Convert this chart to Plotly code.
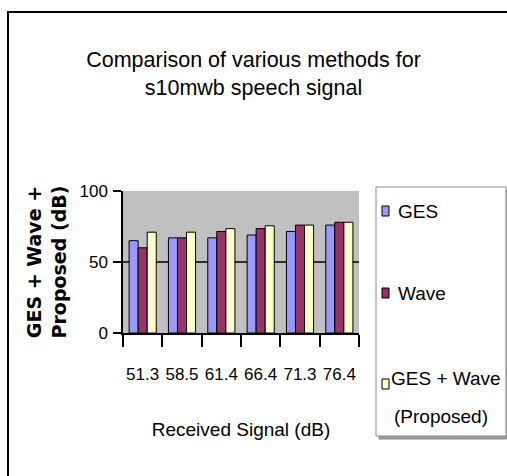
import plotly.graph_objects as go

# ---- data ----
categories = ["51.3", "58.5", "61.4", "66.4", "71.3", "76.4"]
ges = [65, 67, 67, 69, 71.5, 76]
wave = [60, 67, 71.5, 73.5, 76, 78]
proposed = [71, 71, 73.5, 75.5, 76, 78]
series_names = ["GES", "Wave", "GES + Wave (Proposed)"]
series_colors = ["#9999FF", "#993366", "#FFFFCC"]
y_ticks = [0, 50, 100]

W, H = 507, 476
L, R, T, B = 123, 359, 191, 333  # plot area in pixels

def px(x):
    return (x - L) / (R - L)

def py(y):
    return (B - y) / (B - T)

FONT = "Liberation Sans, Arial, sans-serif"

fig = go.Figure()
for name, vals, col in zip(series_names, [ges, wave, proposed], series_colors):
    fig.add_trace(go.Bar(
        x=categories, y=vals, name=name, showlegend=False,
        marker=dict(color=col, line=dict(color="black", width=1)),
    ))

shapes = []
# gridline at 50 (behind bars)
shapes.append(dict(type="line", xref="paper", yref="y", x0=0, x1=1, y0=50, y1=50,
                   line=dict(color="black", width=1.5), layer="below"))
# outer chart border
shapes.append(dict(type="rect", xref="paper", yref="paper",
                   x0=px(8), x1=px(530), y0=py(12), y1=py(500),
                   line=dict(color="black", width=2), fillcolor="rgba(0,0,0,0)"))
# legend shadow + frame
shapes.append(dict(type="rect", xref="paper", yref="paper",
                   x0=px(379), x1=px(509), y0=py(190), y1=py(439),
                   line=dict(color="#8a8a8a", width=1), fillcolor="#9a9a9a"))
shapes.append(dict(type="rect", xref="paper", yref="paper",
                   x0=px(376), x1=px(506), y0=py(187), y1=py(436),
                   line=dict(color="#8a8a8a", width=1), fillcolor="white"))

annotations = []
legend_rows = [211, 293, 384]
for (name, col, yc) in zip(series_names, series_colors, legend_rows):
    shapes.append(dict(type="rect", xref="paper", yref="paper",
                       x0=px(382), x1=px(389), y0=py(yc - 5), y1=py(yc + 5),
                       line=dict(color="black", width=1), fillcolor=col))
# legend labels
annotations.append(dict(text=series_names[0], xref="paper", yref="paper",
                        x=px(396), y=py(211), xanchor="left", yanchor="middle",
                        showarrow=False, font=dict(family=FONT, size=19, color="black")))
annotations.append(dict(text=series_names[1], xref="paper", yref="paper",
                        x=px(396), y=py(293), xanchor="left", yanchor="middle",
                        showarrow=False, font=dict(family=FONT, size=19, color="black")))
p1, p2 = series_names[2].split(" (")
annotations.append(dict(text=p1, xref="paper", yref="paper",
                        x=px(446), y=py(378), xanchor="center", yanchor="middle",
                        showarrow=False, font=dict(family=FONT, size=19, color="black")))
annotations.append(dict(text="(" + p2, xref="paper", yref="paper",
                        x=px(441), y=py(416), xanchor="center", yanchor="middle",
                        showarrow=False, font=dict(family=FONT, size=19, color="black")))

fig.update_layout(
    width=W, height=H,
    margin=dict(l=L, r=W - R, t=T, b=H - B, autoexpand=False),
    paper_bgcolor="white",
    plot_bgcolor="#C0C0C0",
    barmode="group",
    bargap=0.31,
    bargroupgap=0,
    title=dict(text="Comparison of various methods for<br>s10mwb speech signal",
               x=0.5, xref="container", xanchor="center",
               y=1 - 67 / H, yref="container", yanchor="top",
               font=dict(family=FONT, size=21.5, color="black")),
    xaxis=dict(type="category", showline=True, linecolor="black", linewidth=1.5,
               ticks="outside", tickson="boundaries", ticklen=12, tickwidth=1.5,
               tickcolor="black", showgrid=False, tickangle=0,
               tickfont=dict(family=FONT, size=17, color="black"),
               ticklabelstandoff=25,
               title=dict(text="Received Signal (dB)", standoff=40,
                          font=dict(family=FONT, size=19, color="black"))),
    yaxis=dict(range=[0, 100], tickvals=y_ticks, showline=True, linecolor="black",
               linewidth=1.5, ticks="outside", ticklen=8, tickwidth=1.5,
               tickcolor="black", showgrid=False, zeroline=False,
               tickfont=dict(family=FONT, size=17, color="black"),
               ticklabelstandoff=2,
               title=dict(text="GES + Wave +<br>Proposed (dB)", standoff=8,
                          font=dict(family="DejaVu Sans, sans-serif", size=19,
                                    color="black", weight="bold"))),
    # inner half of the crossing y ticks
    yaxis2=dict(overlaying="y", matches="y", side="left", anchor="x",
                tickvals=y_ticks, ticks="inside", ticklen=4, tickwidth=1.5,
                tickcolor="black", showticklabels=False, showgrid=False,
                zeroline=False, showline=False),
    shapes=shapes,
    annotations=annotations,
)

fig.write_html("out.html")
